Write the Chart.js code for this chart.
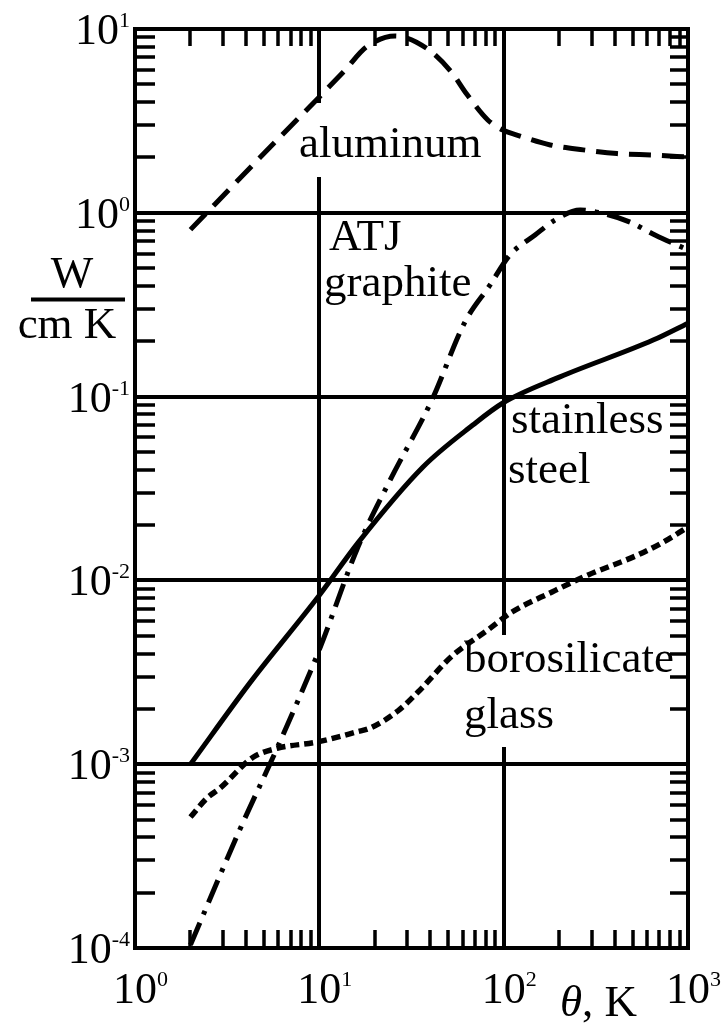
<!DOCTYPE html>
<html>
<head>
<meta charset="utf-8">
<script src="https://cdn.jsdelivr.net/npm/chart.js@4"></script>
<style>
  html, body { margin: 0; padding: 0; background: #fff; }
  #wrap { width: 725px; height: 1031px; position: relative; }
</style>
</head>
<body>
<div id="wrap"><canvas id="chart" width="725" height="1031"></canvas></div>
<script>
// Thermal conductivity (W / cm K) versus temperature (K)
const aluminumT = [2, 5, 10, 13.8, 18, 25.8, 38, 52, 63, 82, 99, 118, 179, 270, 412, 663, 1000];
const aluminumK = [0.81, 2.1, 4.27, 5.98, 7.98, 9.16, 7.88, 5.84, 4.43, 3.2, 2.82, 2.65, 2.34, 2.2, 2.1, 2.06, 2.01];

const graphiteT = [2, 3.7, 6, 10, 16.2, 24.2, 40.8, 61.7, 84.4, 108, 148, 190, 260, 355, 485, 662, 1000];
const graphiteK = [1.04e-4, 4.4e-4, 1.27e-3, 4.2e-3, 0.0152, 0.0351, 0.0958, 0.255, 0.405, 0.589, 0.757, 0.914, 1.035, 0.985, 0.89, 0.757, 0.628];

const steelT = [2, 4.2, 10, 16.2, 36.5, 68, 99, 202, 647, 1000];
const steelK = [0.001, 2.77e-3, 8.3e-3, 0.016, 0.0414, 0.070, 0.0923, 0.128, 0.203, 0.251];

const glassT = [2, 2.46, 2.89, 4.37, 5.9, 9.7, 16, 18.8, 26.7, 34.3, 52.5, 82, 111, 183, 287, 530, 723, 1000];
const glassK = [5.16e-4, 6.55e-4, 7.4e-4, 1.09e-3, 1.22e-3, 1.32e-3, 1.5e-3, 1.57e-3, 1.95e-3, 2.47e-3, 3.88e-3, 5.37e-3, 6.73e-3, 8.65e-3, 0.0107, 0.0137, 0.016, 0.0195];

// decade exponents used for axis labels
const xExponents = [0, 1, 2, 3];
const yExponents = [1, 0, -1, -2, -3, -4];

const SERIF = '"Liberation Serif", "Times New Roman", serif';

function pts(xs, ys) { return xs.map((v, i) => ({ x: v, y: ys[i] })); }

function series(xs, ys, dash, width) {
  return {
    data: pts(xs, ys),
    borderColor: '#000',
    borderWidth: width,
    borderDash: dash,
    borderCapStyle: 'butt',
    pointRadius: 0,
    fill: false,
    cubicInterpolationMode: 'monotone',
    clip: 4
  };
}

const framePlugin = {
  id: 'frameAndLabels',
  beforeDatasetsDraw(chart) {
    const { ctx, chartArea: a, scales: { x, y } } = chart;
    ctx.save();
    ctx.strokeStyle = '#000';
    ctx.lineCap = 'butt';

    // major grid lines at interior decades
    ctx.lineWidth = 4;
    ctx.beginPath();
    [10, 100].forEach(v => {
      const px = Math.round(x.getPixelForValue(v));
      ctx.moveTo(px, a.top); ctx.lineTo(px, a.bottom);
    });
    [1, 0.1, 0.01, 0.001].forEach(v => {
      const py = Math.round(y.getPixelForValue(v));
      ctx.moveTo(a.left, py); ctx.lineTo(a.right, py);
    });
    ctx.stroke();

    // breaks in the vertical grid lines behind the curve labels
    ctx.fillStyle = '#fff';
    const x10 = x.getPixelForValue(10), x100 = x.getPixelForValue(100);
    ctx.fillRect(x10 - 4, 103, 8, 74);
    ctx.fillRect(x100 - 4, 635, 8, 112);

    // minor ticks, pointing inward on all four sides
    ctx.lineWidth = 3.5;
    ctx.beginPath();
    for (let d = 0; d < 3; d++) {
      for (let m = 2; m <= 9; m++) {
        const px = Math.round(x.getPixelForValue(m * Math.pow(10, d)));
        ctx.moveTo(px, a.top); ctx.lineTo(px, a.top + 17);
        ctx.moveTo(px, a.bottom); ctx.lineTo(px, a.bottom - 18);
      }
    }
    for (let d = -4; d < 1; d++) {
      for (let m = 2; m <= 9; m++) {
        const py = Math.round(y.getPixelForValue(m * Math.pow(10, d)));
        ctx.moveTo(a.left, py); ctx.lineTo(a.left + 20, py);
        ctx.moveTo(a.right, py); ctx.lineTo(a.right - 18, py);
      }
    }
    ctx.stroke();

    // frame
    ctx.lineWidth = 4;
    ctx.strokeRect(a.left, a.top, a.right - a.left, a.bottom - a.top);
    ctx.restore();
  },
  afterDraw(chart) {
    const { ctx, chartArea: a, scales: { x, y } } = chart;
    ctx.save();
    ctx.fillStyle = '#000';
    ctx.textBaseline = 'alphabetic';
    ctx.textAlign = 'left';
    const big = '44px ' + SERIF, sup = '22px ' + SERIF;

    // y-axis decade labels
    yExponents.forEach(e => {
      const py = y.getPixelForValue(Math.pow(10, e));
      const s = String(e);
      ctx.font = big; const w1 = ctx.measureText('10').width;
      ctx.font = sup; const w2 = ctx.measureText(s).width;
      const x0 = a.left - 5 - w1 - w2;
      ctx.font = big; ctx.fillText('10', x0, py + 15);
      ctx.font = sup; ctx.fillText(s, x0 + w1, py - 2);
    });

    // x-axis decade labels
    xExponents.forEach(e => {
      const px = x.getPixelForValue(Math.pow(10, e));
      ctx.font = big; const w1 = ctx.measureText('10').width;
      const x0 = Math.min(px - w1 / 2, 725 - w1 - 14);
      ctx.fillText('10', x0, a.bottom + 55);
      ctx.font = sup; ctx.fillText(String(e), x0 + w1, a.bottom + 38);
    });

    // x-axis title
    ctx.font = 'italic 45px ' + SERIF;
    ctx.fillText('\u03B8', 560, a.bottom + 68);
    const wt = ctx.measureText('\u03B8').width;
    ctx.font = '45px ' + SERIF;
    ctx.fillText(', K', 560 + wt, a.bottom + 68);

    // y-axis title as a fraction
    ctx.textAlign = 'center';
    ctx.fillText('W', 72, 287);
    ctx.fillText('cm K', 67, 338);
    ctx.lineWidth = 4;
    ctx.beginPath(); ctx.moveTo(31, 299.5); ctx.lineTo(125, 299.5); ctx.stroke();

    // curve labels
    ctx.textAlign = 'left';
    ctx.font = '45px ' + SERIF;
    ctx.fillText('aluminum', 299, 157);
    ctx.fillText('ATJ', 329, 250);
    ctx.fillText('graphite', 324, 296);
    ctx.fillText('stainless', 511, 433);
    ctx.fillText('steel', 508, 483);
    ctx.fillText('borosilicate', 464, 672);
    ctx.fillText('glass', 464, 728);
    ctx.restore();
  }
};

new Chart(document.getElementById('chart'), {
  type: 'line',
  data: {
    datasets: [
      series(aluminumT, aluminumK, [22, 11], 5),
      series(graphiteT, graphiteK, [24, 9, 4, 9], 5),
      series(steelT, steelK, [], 5),
      series(glassT, glassK, [9, 5], 5.5)
    ]
  },
  options: {
    responsive: false,
    animation: false,
    devicePixelRatio: 1,
    layout: { padding: { left: 135, top: 29, right: 37, bottom: 83 } },
    plugins: { legend: { display: false }, tooltip: { enabled: false } },
    scales: {
      x: { type: 'logarithmic', min: 1, max: 1000, display: false },
      y: { type: 'logarithmic', min: 1e-4, max: 10, display: false }
    }
  },
  plugins: [framePlugin]
});
</script>
</body>
</html>
